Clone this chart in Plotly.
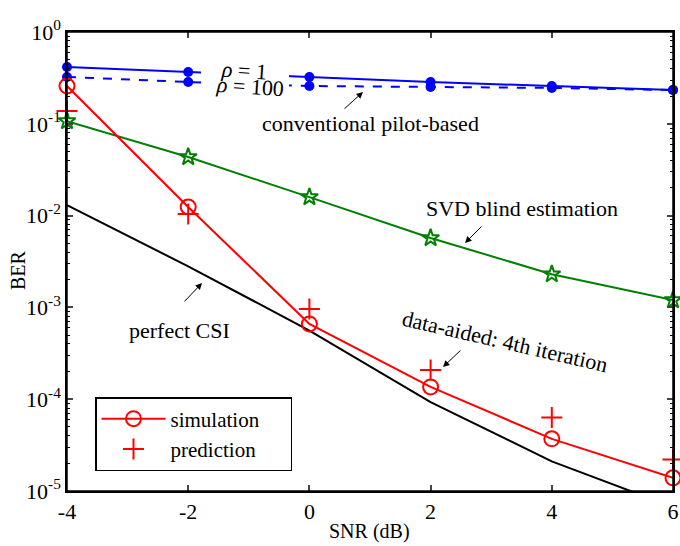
import plotly.graph_objects as go

snr = [-4, -2, 0, 2, 4, 6]
pilot_rho1 = [0.416, 0.367, 0.324, 0.285, 0.258, 0.233]
pilot_rho100 = [0.324, 0.285, 0.258, 0.252, 0.246, 0.233]
svd_blind = [0.107, 0.0435, 0.0159, 0.0057, 0.0023, 0.0012]
perfect_csi = [0.013, 0.0028, 0.00056, 0.000093, 0.000021, 0.0000067]
sim_4th = [0.258, 0.0124, 0.00066, 0.000136, 0.000037, 0.0000139]
pred_4th = [0.138, 0.0104, 0.00096, 0.000208, 0.000063, 0.000022]

ytick_vals = [1, 0.1, 0.01, 0.001, 0.0001, 0.00001]
ytick_text = ["10<sup>0</sup>", "10<sup>-1</sup>", "10<sup>-2</sup>", "10<sup>-3</sup>",
              "10<sup>-4</sup>", "10<sup>-5</sup>"]
xtick_vals = [-4, -2, 0, 2, 4, 6]
xtick_text = ["-4", "-2", "0", "2", "4", "6"]

FONT = "Liberation Serif"
NB = "\u00a0"

fig = go.Figure()
fig.add_trace(go.Scatter(x=snr, y=pilot_rho1, mode="lines+markers", showlegend=False,
                         line=dict(color="#0000ff", width=2),
                         marker=dict(symbol="circle", size=10, color="#0000ff"), cliponaxis=False))
fig.add_trace(go.Scatter(x=snr, y=pilot_rho100, mode="lines+markers", showlegend=False,
                         line=dict(color="#0000ff", width=2, dash="dash"),
                         marker=dict(symbol="circle", size=10, color="#0000ff"), cliponaxis=False))
fig.add_trace(go.Scatter(x=snr, y=svd_blind, mode="lines+markers", showlegend=False,
                         line=dict(color="#008000", width=2),
                         marker=dict(symbol="star-open", size=13, color="#008000",
                                     line=dict(width=2, color="#008000")), cliponaxis=False))
fig.add_trace(go.Scatter(x=snr, y=perfect_csi, mode="lines", showlegend=False,
                         line=dict(color="black", width=2)))
fig.add_trace(go.Scatter(x=snr, y=sim_4th, mode="lines+markers", name="simulation" + NB * 5,
                         line=dict(color="#ff0000", width=2),
                         marker=dict(symbol="circle-open", size=15, color="#ff0000",
                                     line=dict(width=2, color="#ff0000")), cliponaxis=False))
fig.add_trace(go.Scatter(x=snr, y=pred_4th, mode="markers", name="prediction",
                         marker=dict(symbol="cross-thin", size=15, color="#ff0000",
                                     line=dict(width=2, color="#ff0000")), cliponaxis=False))

L, R, T, B = 67, 673, 32, 491
W, H = R - L, B - T


def px(x):
    return (x - L) / W


def py(y):
    return (B - y) / H


ann = []


def text(x, y, s, angle=0, size=22):
    ann.append(dict(x=px(x), y=py(y), xref="paper", yref="paper", text=s, showarrow=False,
                    font=dict(family=FONT, size=size, color="black"), textangle=angle,
                    xanchor="center", yanchor="middle"))


def arrow(hx, hy, tx, ty):
    ann.append(dict(x=px(hx), y=py(hy), xref="paper", yref="paper", text="",
                    showarrow=True, ax=tx - hx, ay=ty - hy, arrowhead=2,
                    arrowsize=1.3, arrowwidth=1, arrowcolor="black"))


text(244, 70, "<i>ρ</i> = 1", angle=4)
text(250, 86, "<i>ρ</i> = 100", angle=4)
text(370, 123, "conventional pilot-based")
arrow(363, 92, 343, 110)
text(522, 208, "SVD blind estimation")
arrow(465, 243, 483, 225)
text(179, 330, "perfect CSI")
arrow(202, 283, 183, 303)
text(505, 341, "data-aided: 4th iteration", angle=13)
arrow(443, 367, 462, 349)

# axis title texts placed as annotations
text(369, 531, "SNR (dB)", size=20)
text(18, 270, "BER", angle=-90, size=20)

# white gap behind the rho labels
fig.add_shape(type="rect", xref="paper", yref="paper", x0=px(201), x1=px(289),
              y0=py(97), y1=py(62), fillcolor="white", line=dict(width=0), layer="above")
fig.add_shape(type="rect", xref="paper", yref="paper", x0=0, y0=0, x1=1, y1=1,
              line=dict(color="black", width=1.5), layer="above")

fig.update_layout(
    width=680, height=546,
    margin=dict(l=L, r=680 - R, t=T, b=546 - B),
    paper_bgcolor="white", plot_bgcolor="white",
    font=dict(family=FONT, size=20, color="black"),
    annotations=ann,
    legend=dict(x=px(95), y=py(397), xanchor="left", yanchor="top",
                bordercolor="black", borderwidth=1.5, bgcolor="white", itemwidth=64,
                font=dict(family=FONT, size=21), tracegroupgap=0),
    xaxis=dict(range=[-4, 6], tickvals=xtick_vals, ticktext=xtick_text, ticks="inside",
               ticklen=6, tickwidth=1.5, showline=True, linecolor="black", linewidth=1.5,
               mirror="ticks", showgrid=False, zeroline=False, automargin=False,
               tickfont=dict(family=FONT, size=22)),
    yaxis=dict(type="log", range=[-5, 0], tickvals=ytick_vals, ticktext=ytick_text,
               ticks="inside", ticklen=6, tickwidth=1.5, showline=True, linecolor="black",
               linewidth=1.5, mirror="ticks", showgrid=False, zeroline=False,
               automargin=False,
               minor=dict(ticks="inside", ticklen=3, tickwidth=1, tickcolor="black",
                          showgrid=False,
                          tickvals=[m * 10 ** e for e in range(-5, 0) for m in range(2, 10)]),
               tickfont=dict(family=FONT, size=22)),
)

fig.write_html("out.html", config={"displayModeBar": False},
               post_script="document.body.style.margin='0';")
